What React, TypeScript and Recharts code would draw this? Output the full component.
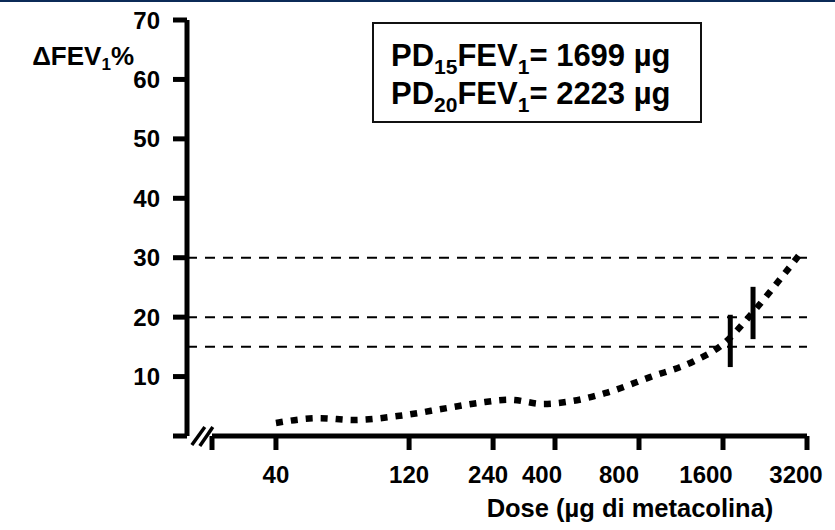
import React from 'react';
import { LineChart, Line, XAxis, YAxis, ReferenceLine, ReferenceDot, Customized } from 'recharts';

// Dose (µg of methacholine) and FEV1 fall (%)
const doses = [40, 57.5, 75.5, 111, 164, 215, 276, 362, 464, 604, 876, 1248, 1585, 2081, 2667, 3100];
const fevChange = [2.2, 3.0, 2.7, 3.4, 4.7, 5.6, 6.1, 5.4, 5.9, 7.2, 9.9, 12.5, 15.3, 21.2, 27.4, 31.3];

const axisStart = 23.6;
const xDomainMin = 19.2;
const xDomainMax = 3200;
const xTicks = [axisStart, 40, 120, 240, 400, 800, 1600, 3200];
const xTickLabels = ['', '40', '120', '240', '400', '800', '1600', '3200'];
const yTicks = [0, 10, 20, 30, 40, 50, 60, 70];
const thresholds = [30, 20, 15];

const pd15Dose = 1699;
const pd15Span = [11.6, 20.4];
const pd20Dose = 2050;
const pd20Span = [16.3, 25.1];
const breakAt = 21.7;

const data = doses.map((d, i) => ({ dose: d, v: fevChange[i] }));

const FONT = '"Liberation Sans", Arial, Helvetica, sans-serif';
const xLabelShift = [0, 0, 0, -5, -13, -20, -17, -11];

const XTick = (props: any) => {
  const { x, y, payload } = props;
  const i = xTicks.indexOf(payload.value);
  return (
    <text x={x + (xLabelShift[i] || 0)} y={y} dy={17} textAnchor="middle" fontSize={24} fontWeight="bold" fontFamily={FONT} fill="#000">
      {xTickLabels[i] ?? ''}
    </text>
  );
};

const Decor = () => (
  <g fontFamily={FONT} fontWeight="bold" fill="#000">
    <rect x={0} y={0} width={835} height={2} fill="#0b2a57" />
    <text x={134} y={65} textAnchor="end" fontSize={26}>
      ΔFEV<tspan fontSize={17} dy={5}>1</tspan><tspan dy={-5} fontSize={26}>%</tspan>
    </text>
    <rect x={373} y={23} width={328} height={99} fill="#fff" stroke="#111" strokeWidth={2} />
    <text x={391} y={66} fontSize={31}>
      PD<tspan fontSize={21} dy={8}>15</tspan><tspan dy={-8}>FEV</tspan><tspan fontSize={21} dy={8}>1</tspan><tspan dy={-8}>= 1699 µg</tspan>
    </text>
    <text x={391} y={104} fontSize={31}>
      PD<tspan fontSize={21} dy={8}>20</tspan><tspan dy={-8}>FEV</tspan><tspan fontSize={21} dy={8}>1</tspan><tspan dy={-8}>= 2223 µg</tspan>
    </text>
    <text x={630} y={517} textAnchor="middle" fontSize={25.5}>Dose (µg di metacolina)</text>
  </g>
);

const BreakMark = (p: any) => {
  const { cx, cy } = p;
  return (
    <g stroke="#000" strokeWidth={3.5}>
      <line x1={cx - 10} y1={cy + 9} x2={cx + 3} y2={cy - 9} />
      <line x1={cx - 2} y1={cy + 10} x2={cx + 11} y2={cy - 9} />
    </g>
  );
};

export default function App() {
  return (
    <div style={{ position: 'absolute', left: 0, top: 0, width: 835, height: 530, background: '#fff' }}>
      <LineChart width={835} height={530} data={data} margin={{ top: 20, right: 28, bottom: 34, left: 0 }}>
        <XAxis
          dataKey="dose"
          type="number"
          scale="log"
          domain={[xDomainMin, xDomainMax]}
          allowDataOverflow
          ticks={xTicks}
          interval={0}
          axisLine={false}
          tickLine={{ stroke: '#000', strokeWidth: 5 }}
          tickSize={14}
          tickMargin={16}
          height={60}
          tick={<XTick />}
        />
        <YAxis
          type="number"
          domain={[0, 70]}
          ticks={yTicks}
          interval={0}
          width={187}
          axisLine={{ stroke: '#000', strokeWidth: 5 }}
          tickLine={{ stroke: '#000', strokeWidth: 5 }}
          tickSize={14}
          tickMargin={13}
          tickFormatter={(v: number) => (v === 0 ? '' : String(v))}
          tick={{ fill: '#000', fontSize: 24, fontWeight: 'bold', fontFamily: FONT }}
        />
        {thresholds.map((t) => (
          <ReferenceLine key={t} y={t} stroke="#000" strokeWidth={2} strokeDasharray="10 8" />
        ))}
        <ReferenceLine
          segment={[{ x: axisStart, y: 0 }, { x: xDomainMax, y: 0 }]}
          stroke="#000"
          strokeWidth={5}
          ifOverflow="visible"
        />
        <Line
          dataKey="v"
          type="monotone"
          stroke="#000"
          strokeWidth={6.5}
          strokeDasharray="7 8"
          dot={false}
          activeDot={false}
          isAnimationActive={false}
        />
        <ReferenceLine
          segment={[{ x: pd15Dose, y: pd15Span[0] }, { x: pd15Dose, y: pd15Span[1] }]}
          stroke="#000"
          strokeWidth={5}
        />
        <ReferenceLine
          segment={[{ x: pd20Dose, y: pd20Span[0] }, { x: pd20Dose, y: pd20Span[1] }]}
          stroke="#000"
          strokeWidth={5}
        />
        <ReferenceDot x={breakAt} y={0} ifOverflow="visible" shape={<BreakMark />} />
        <Customized component={<Decor />} />
      </LineChart>
    </div>
  );
}
